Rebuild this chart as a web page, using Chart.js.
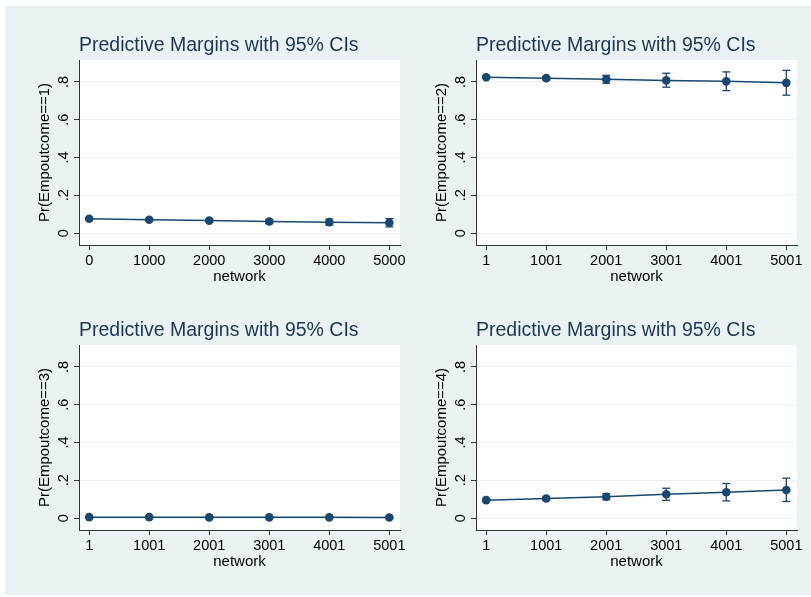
<!DOCTYPE html><html lang="en">
<head>
  <meta charset="UTF-8" />
  <title>Predictive Margins with 95% CIs</title>
  <script src="https://cdn.jsdelivr.net/npm/chart.js"></script>
  <style>
    body { margin: 0; background: #fff; width: 811px; height: 597px; overflow: hidden; position: relative; font-family: 'Liberation Sans', Arial, sans-serif; }
    #bg { position: absolute; left: 5px; top: 6px; width: 806px; height: 589px; background: #eaf2f3; }
    .panel { position: absolute; width: 411px; height: 285px; }
  </style>
</head>
<body>
  <div id="bg"></div>
  <div class="panel" style="left:5px;top:6px"><canvas id="c1" width="411" height="285"></canvas></div>
  <div class="panel" style="left:402px;top:6px"><canvas id="c2" width="411" height="285"></canvas></div>
  <div class="panel" style="left:5px;top:291px"><canvas id="c3" width="411" height="285"></canvas></div>
  <div class="panel" style="left:402px;top:291px"><canvas id="c4" width="411" height="285"></canvas></div>
  <script>
// x values (network) – first panel is labelled from 0, the others from 1
const network0 = [0, 1000, 2000, 3000, 4000, 5000];
const network1 = [1, 1001, 2001, 3001, 4001, 5001];
const networkLabels0 = ["0", "1000", "2000", "3000", "4000", "5000"];
const networkLabels1 = ["1", "1001", "2001", "3001", "4001", "5001"];

const yTicks = [0, 0.2, 0.4, 0.6, 0.8];
const yTickLabels = ["0", ".2", ".4", ".6", ".8"];

// Pr(Empoutcome==1)
const margin1 = [0.076, 0.071, 0.066, 0.061, 0.058, 0.055];
const lower1  = [0.072, 0.066, 0.059, 0.050, 0.042, 0.033];
const upper1  = [0.080, 0.076, 0.073, 0.072, 0.074, 0.077];
// Pr(Empoutcome==2)
const margin2 = [0.825, 0.820, 0.814, 0.808, 0.803, 0.795];
const lower2  = [0.819, 0.811, 0.793, 0.772, 0.754, 0.730];
const upper2  = [0.831, 0.829, 0.835, 0.846, 0.853, 0.861];
// Pr(Empoutcome==3)
const margin3 = [0.005, 0.005, 0.004, 0.004, 0.004, 0.003];
const lower3  = [0.003, 0.003, 0.002, 0.001, 0.001, 0.000];
const upper3  = [0.007, 0.007, 0.006, 0.007, 0.007, 0.007];
// Pr(Empoutcome==4)
const margin4 = [0.095, 0.104, 0.113, 0.126, 0.137, 0.149];
const lower4  = [0.089, 0.096, 0.097, 0.094, 0.091, 0.088];
const upper4  = [0.101, 0.112, 0.129, 0.158, 0.183, 0.211];

const navy = "#1a476f";
const fam = "'Liberation Sans', Arial, sans-serif";

// white plot region like stata's s2color scheme
const plotBg = {
  id: "plotBg",
  beforeDraw(chart) {
    const a = chart.chartArea, ctx = chart.ctx;
    ctx.save();
    ctx.fillStyle = "#fff";
    ctx.fillRect(a.left, a.top, a.right - a.left, a.bottom - a.top);
    ctx.restore();
  }
};

function makeChart(id, xs, xLabels, est, lo, hi, yTitle) {
  // CI segments: lo -> hi, then a gap
  const ci = [];
  xs.forEach((x, i) => {
    ci.push({ x: x, y: lo[i] }, { x: x, y: hi[i] }, { x: x, y: null });
  });
  return new Chart(document.getElementById(id), {
    type: "line",
    data: {
      datasets: [
        {
          data: xs.map((x, i) => ({ x: x, y: est[i] })),
          borderColor: navy, borderWidth: 1.5,
          pointRadius: 4.3, pointBackgroundColor: navy, pointBorderColor: navy, pointBorderWidth: 0
        },
        {
          data: ci, spanGaps: false,
          borderColor: navy, borderWidth: 1.3,
          pointStyle: "line", pointRadius: 4, pointBorderColor: navy, pointBorderWidth: 1.3
        }
      ]
    },
    options: {
      responsive: false, animation: false, events: [],
      layout: { padding: { left: 0, right: 16, top: 0, bottom: 0 } },
      plugins: {
        legend: { display: false },
        tooltip: { enabled: false },
        title: {
          display: true, text: "Predictive Margins with 95% CIs",
          align: "start", fullSize: false, color: "#1e3556",
          font: { size: 19.5, family: fam, weight: "normal" },
          padding: { top: 28, bottom: 2.6 }
        }
      },
      scales: {
        x: {
          type: "linear", min: xs[0] - 170, max: xs[xs.length - 1] + 178,
          afterBuildTicks: s => { s.ticks = xs.map(v => ({ value: v })); },
          afterFit: s => { s.height = 46; },
          border: { display: true, color: "#333", width: 1 },
          grid: { drawOnChartArea: false, tickLength: 5, tickColor: "#333" },
          ticks: { autoSkip: false, maxRotation: 0, padding: 2, color: "#000",
                   font: { size: 14.5, family: fam }, callback: (v, i) => xLabels[i] },
          title: { display: true, text: "network", color: "#000",
                   font: { size: 15, family: fam }, padding: { top: 0, bottom: 5 } }
        },
        y: {
          min: -0.063, max: 0.916,
          afterBuildTicks: s => { s.ticks = yTicks.map(v => ({ value: v })); },
          afterFit: s => { s.width = 74; },
          border: { display: true, color: "#333", width: 1 },
          grid: { color: "#eaf2f3", lineWidth: 1, tickLength: 5, tickColor: "#333" },
          ticks: { minRotation: 90, maxRotation: 90, crossAlign: "center", padding: 4, color: "#000",
                   font: { size: 14.5, family: fam }, callback: (v, i) => yTickLabels[i] },
          title: { display: true, text: yTitle, color: "#000",
                   font: { size: 15, family: fam }, padding: { top: 31, bottom: 0 } }
        }
      }
    },
    plugins: [plotBg]
  });
}

makeChart("c1", network0, networkLabels0, margin1, lower1, upper1, "Pr(Empoutcome==1)");
makeChart("c2", network1, networkLabels1, margin2, lower2, upper2, "Pr(Empoutcome==2)");
makeChart("c3", network1, networkLabels1, margin3, lower3, upper3, "Pr(Empoutcome==3)");
makeChart("c4", network1, networkLabels1, margin4, lower4, upper4, "Pr(Empoutcome==4)");
  </script>
</body>
</html>
